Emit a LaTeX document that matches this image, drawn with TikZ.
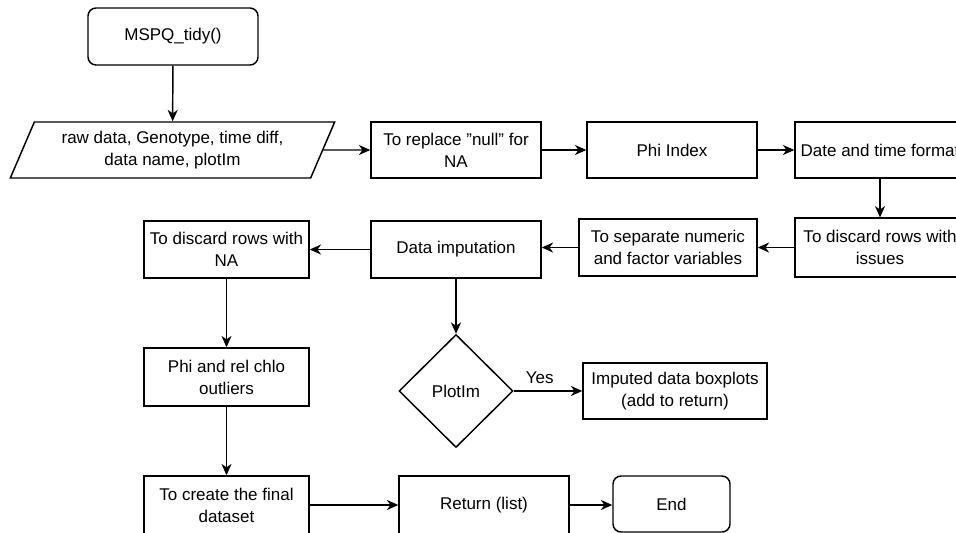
\documentclass[tikz,border=0pt]{standalone}
\usepackage{fontspec}
\setmainfont{Liberation Sans}
\usetikzlibrary{arrows.meta, shapes.geometric}

\begin{document}
\begin{tikzpicture}[x=0.75pt, y=-0.75pt,
	every node/.style={font=\fontsize{12.75}{16.5}\selectfont, align=center, inner sep=0pt},
	box/.style={draw, line width=1.1pt, minimum width=127.5pt, minimum height=42pt},
	term/.style={box, rounded corners=6pt},
	inbox/.style={draw, line width=1.1pt, trapezium, trapezium stretches=true,
		trapezium left angle=63, trapezium right angle=117,
		minimum width=243.75pt, minimum height=42pt},
	ask/.style={draw, line width=1.1pt, diamond, minimum width=85.5pt, minimum height=84.75pt},
	flow/.style={line width=1.1pt, -{Stealth[length=8.5pt, width=7.5pt, inset=2.6pt]}}]
	\useasboundingbox (0,0) rectangle (956,532);
	\clip (0,0) rectangle (956,532);
	
	% Top row
	\node[term, minimum height=42.75pt] (start) at (173,36.5) {MSPQ\_tidy()};
	\node[inbox] (input) at (172.5,150) {raw data, Genotype, time diff,\\data name, plotIm};
	\node[box] (replace) at (456,150) {To replace \symbol{34}null\symbol{34} for\\NA};
	\node[box] (phi) at (672,150) {Phi Index};
	\node[box] (datefmt) at (880,150) {Date and time format};
	
	% Second row
	\node[box, minimum height=44pt] (discissues) at (880,247.5) {To discard rows with\\issues};
	\node[box, minimum width=133.5pt, minimum height=42.75pt] (separate) at (668,247.5) {To separate numeric\\and factor variables};
	\node[box, minimum height=42.75pt] (imput) at (456,249.5) {Data imputation};
	\node[box, minimum width=123.75pt, minimum height=42.75pt] (discna) at (226.5,249.5) {To discard rows with\\NA};
	
	% Left column and bottom row
	\node[box, minimum width=123.75pt, minimum height=43.5pt] (outliers) at (226.5,377) {Phi and rel chlo\\outliers};
	\node[box, minimum width=123.75pt, minimum height=43.5pt] (final) at (226.5,505) {To create the final\\dataset};
	\node[box, minimum height=43.5pt] (ret) at (484,505) {Return (list)};
	\node[term, minimum width=87.75pt] (endn) at (671.5,504) {End};
	
	% Decision
	\node[ask] (plotim) at (456,391) {PlotIm};
	\node[box, minimum width=138pt] (imputed) at (675,391) {Imputed data boxplots\\(add to return)};
	
	% Arrows
	\draw[flow] (start) -- (input);
	\draw[flow] (input) -- (replace);
	\draw[flow] (replace) -- (phi);
	\draw[flow] (phi) -- (datefmt);
	\draw[flow] (datefmt) -- (discissues);
	\draw[flow] (discissues) -- (separate);
	\draw[flow] (separate) -- (separate -| imput.east);
	\draw[flow] (imput) -- (discna);
	\draw[flow] (discna) -- (outliers);
	\draw[flow] (outliers) -- (final);
	\draw[flow] (final) -- (final -| ret.west);
	\draw[flow] (ret) -- (ret -| endn.west);
	\draw[flow] (imput) -- (plotim);
	\draw[flow] (plotim) -- node[above=5pt, pos=0.38] (yes) {Yes} (imputed);
	
\end{tikzpicture}
\end{document}
